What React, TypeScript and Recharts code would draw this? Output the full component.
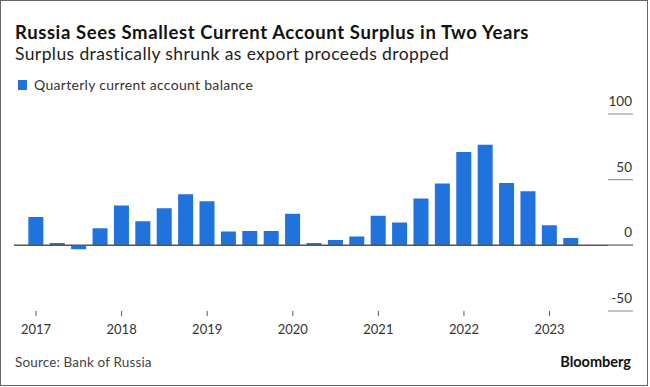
import { BarChart, Bar, XAxis, YAxis, ReferenceLine } from 'recharts'

// quarterly current account balance, $bn, 2017 Q1 .. 2023 Q2
const quarters = [
  '2017 Q1', '2017 Q2', '2017 Q3', '2017 Q4',
  '2018 Q1', '2018 Q2', '2018 Q3', '2018 Q4',
  '2019 Q1', '2019 Q2', '2019 Q3', '2019 Q4',
  '2020 Q1', '2020 Q2', '2020 Q3', '2020 Q4',
  '2021 Q1', '2021 Q2', '2021 Q3', '2021 Q4',
  '2022 Q1', '2022 Q2', '2022 Q3', '2022 Q4',
  '2023 Q1', '2023 Q2',
]
const balance = [
  21.5, 1.8, -3, 13.1,
  30.3, 18.4, 28.3, 38.9,
  33.6, 10.6, 10.9, 10.9,
  24, 1.8, 4, 6.8,
  22.5, 17.4, 35.6, 47,
  71, 76.5, 47.5, 41.2,
  15.2, 5.6,
]
const yearLabels = ['2017', '2018', '2019', '2020', '2021', '2022', '2023']
const yTicks = [-50, 0, 50, 100]

const data = quarters.map((q, i) => ({ i, q, value: balance[i] }))
const yearTicks = yearLabels.map((_, k) => k * 4)

const BLUE = '#2072dc'
const FONT = 'Lato, "Noto Sans", sans-serif'
const RIGHT = 634

function RightTick(props: any) {
  const { y, payload } = props
  return (
    <g>
      <line x1={609} x2={RIGHT} y1={y} y2={y} stroke="#999" strokeWidth={1.2} />
      <text x={RIGHT - 1} y={y - 8} textAnchor="end" fontSize={13.5} fill="#333" fontFamily={FONT}>
        {payload.value}
      </text>
    </g>
  )
}

export default function App() {
  return (
    <div style={{ position: 'absolute', left: 0, top: 0, width: 650, height: 387, background: '#fff', overflow: 'hidden', fontFamily: FONT }}>
      <div
        style={{
          position: 'absolute',
          left: 0,
          top: 0,
          width: 648,
          height: 386,
          boxSizing: 'border-box',
          border: '1.5px solid #666',
        }}
      />
      <div style={{ position: 'absolute', left: 15, top: 21, fontSize: 18.5, letterSpacing: 0.6, fontWeight: 700, color: '#111', whiteSpace: 'nowrap' }}>
        Russia Sees Smallest Current Account Surplus in Two Years
      </div>
      <div style={{ position: 'absolute', left: 15, top: 43, fontSize: 17.5, letterSpacing: 0.4, color: '#222', whiteSpace: 'nowrap' }}>
        Surplus drastically shrunk as export proceeds dropped
      </div>
      <div style={{ position: 'absolute', left: 18, top: 76, fontSize: 14, letterSpacing: 0.3, color: '#333', display: 'flex', alignItems: 'center', whiteSpace: 'nowrap' }}>
        <span style={{ display: 'inline-block', width: 9, height: 10, background: BLUE, marginRight: 7 }} />
        Quarterly current account balance
      </div>

      <div style={{ position: 'absolute', left: -1, top: -1 }}>
        <BarChart
          width={650}
          height={387}
          data={data}
          margin={{ top: 115, right: 15, bottom: 45, left: 15 }}
        >
          <XAxis
            dataKey="i"
            type="number"
            domain={[-1.03, 27.9]}
            ticks={yearTicks}
            tickFormatter={(v: number) => yearLabels[v / 4]}
            axisLine={false}
            tickSize={5}
            tickMargin={9}
            tickLine={{ stroke: '#555' }}
            tick={{ fontSize: 13, fill: '#333', fontFamily: FONT }}
            height={30}
            allowDataOverflow
          />
          <YAxis
            orientation="right"
            width={1}
            domain={[-50, 100]}
            ticks={yTicks}
            axisLine={false}
            tickLine={false}
            tick={<RightTick />}
          />
          <ReferenceLine y={0} stroke="#555" strokeWidth={1.5} />
          <Bar dataKey="value" fill={BLUE} barSize={15} isAnimationActive={false} />
        </BarChart>
      </div>

      <div style={{ position: 'absolute', left: 15, top: 354, fontSize: 13.5, letterSpacing: 0.15, color: '#444', whiteSpace: 'nowrap' }}>
        Source: Bank of Russia
      </div>
      <div style={{ position: 'absolute', right: 19, top: 353, fontSize: 14.5, fontWeight: 700, color: '#111', whiteSpace: 'nowrap' }}>
        Bloomberg
      </div>
    </div>
  )
}
